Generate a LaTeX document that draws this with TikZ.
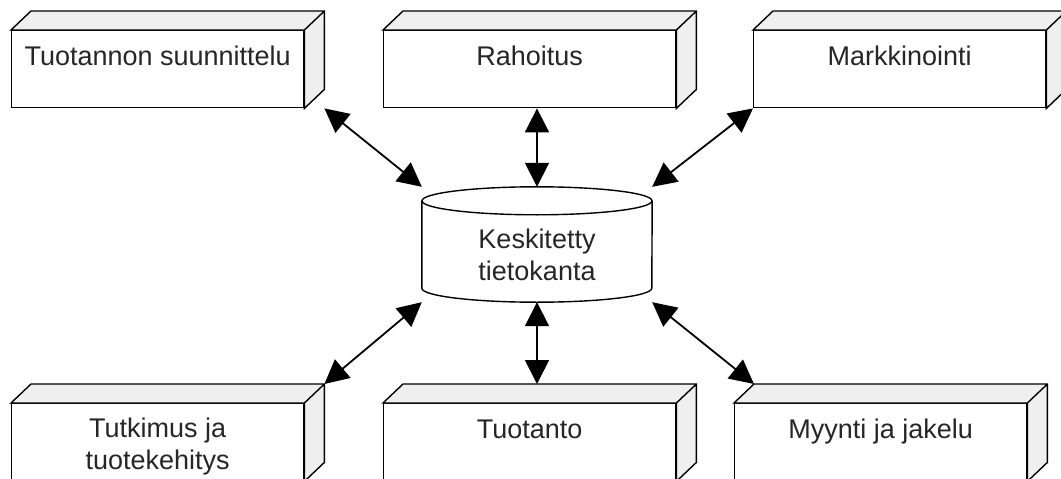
\documentclass[tikz,border=0pt]{standalone}
\usepackage{fontspec}
\setmainfont{Liberation Sans}
\usetikzlibrary{arrows.meta,calc}
\definecolor{pinta}{HTML}{EFEFEF}

\begin{document}
\begin{tikzpicture}[x=1pt,y=-1pt,font=\fontsize{27}{32}\selectfont,
      kuutio/.style={draw,fill=white,line width=1.4pt,minimum width=292pt,inner xsep=2pt,inner ysep=0pt,
        text height=35pt,text depth=42pt,align=center,anchor=north west,text=black!85},
      sivu/.style={draw,fill=pinta,line width=1.4pt},
      nuoli/.style={{Triangle[length=24pt,width=24pt]}-{Triangle[length=24pt,width=24pt]},line width=1.8pt}]
    \useasboundingbox (0,0) rectangle (1061,479);
    \clip (0,0) rectangle (1061,479);
    % --- top row ---
    \node[kuutio] (suun) at (11,30) {Tuotannon suunnittelu};
    \node[kuutio] (raho) at (383,30) {Rahoitus};
    \node[kuutio] (mark) at (753,30) {Markkinointi};
    % --- bottom row ---
    \node[kuutio,text height=66pt,text depth=11pt] (tutk) at (11,403) {Tutkimus ja\\tuotekehitys};
    \node[kuutio] (tuot) at (383,403) {Tuotanto};
    \node[kuutio] (myyn) at (734,403) {Myynti ja jakelu};
    % top and side faces
    \foreach \n in {suun,raho,mark,tutk,tuot,myyn}
      \draw[sivu] (\n.north west) -- ++(20,-19) -| ($(\n.south east)+(20,-19)$) -- (\n.south east)
        -- (\n.north east) -- cycle (\n.north east) -- ++(20,-19);
    % --- database ---
    \node[minimum width=230pt,minimum height=115pt,inner sep=0pt,align=center,
      text height=77pt,text depth=6pt,text=black!85] (kanta) at (537,244.5) {Keskitetty\\tietokanta};
    \draw[line width=1.4pt] ($(kanta.north west)+(0,14)$) -- ($(kanta.south west)+(0,-14)$)
      arc[start angle=180,end angle=0,x radius=115,y radius=14] -- ($(kanta.north east)+(0,14)$);
    \draw[line width=1.4pt] ($(kanta.north)+(0,14)$) ellipse[x radius=115,y radius=14];
    % arrows
    \draw[nuoli] ($(suun.south east)+(20,0)$) -- (kanta.west |- kanta.north);
    \draw[nuoli] (kanta.north) -- (kanta.north |- raho.south);
    \draw[nuoli] (mark.south west) -- (kanta.east |- kanta.north);
    \draw[nuoli] ($(tutk.north east)+(20,-19)$) -- (kanta.west |- kanta.south);
    \draw[nuoli] (kanta.south) -- ($(kanta.south |- tuot.north)+(0,-19)$);
    \draw[nuoli] (kanta.east |- kanta.south) -- ($(myyn.north west)+(20,-19)$);
  \end{tikzpicture}
\end{document}
